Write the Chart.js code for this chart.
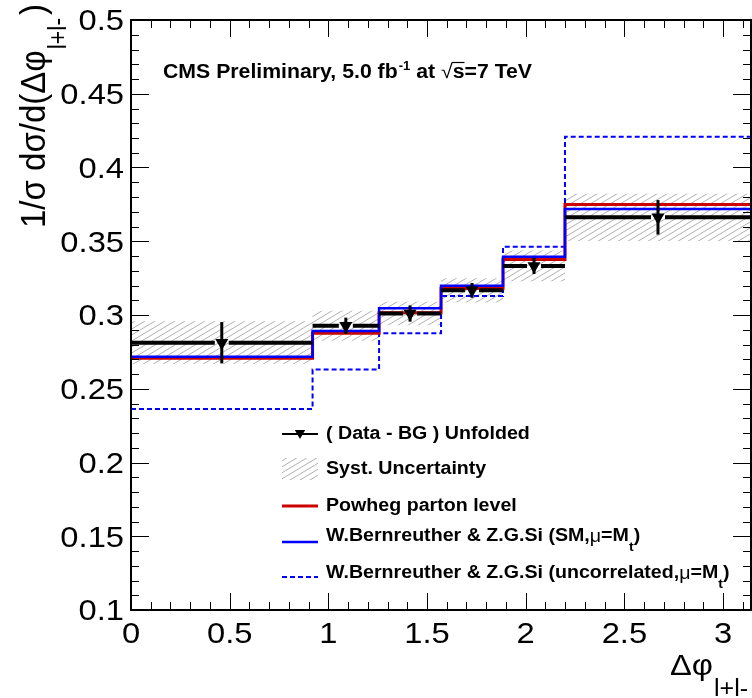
<!DOCTYPE html>
<html>
<head>
<meta charset="utf-8">
<script src="https://cdn.jsdelivr.net/npm/chart.js@4"></script>
<style>
  html, body { margin: 0; padding: 0; background: #fff; overflow: hidden; }
  #grafica { display: block; }
</style>
</head>
<body>
<canvas id="grafica" width="752" height="698"></canvas>
<script>
// bins in delta phi
const binEdges = [0, 0.92, 1.257, 1.571, 1.885, 2.199, Math.PI];
// (Data - BG) unfolded
const dataVals = [0.2812, 0.2927, 0.3010, 0.3167, 0.3333, 0.3662];
const statErr = [0.0140, 0.0055, 0.0055, 0.0050, 0.0055, 0.0117];
const systErr = [0.0145, 0.0102, 0.0080, 0.0082, 0.0104, 0.0160];
// theory curves
const powhegVals = [0.2706, 0.2876, 0.3015, 0.3180, 0.3377, 0.3750];
const smVals = [0.2717, 0.2892, 0.3045, 0.3199, 0.3395, 0.3719];
const uncorrVals = [0.2363, 0.2630, 0.2876, 0.3129, 0.3463, 0.4209];
// axis ticks
const xTickVals = [0, 0.5, 1, 1.5, 2, 2.5, 3];
const xTickLabels = ['0', '0.5', '1', '1.5', '2', '2.5', '3'];
const yTickVals = [0.1, 0.15, 0.2, 0.25, 0.3, 0.35, 0.4, 0.45, 0.5];
const yTickLabels = ['0.1', '0.15', '0.2', '0.25', '0.3', '0.35', '0.4', '0.45', '0.5'];

const FONT = '"Liberation Sans", Arial, Helvetica, sans-serif';
const STRETCH = 1.09;
const RED = '#cc0000';
const BLUE = '#0000ff';

// histogram as stepped line points
function histo(vals) {
    return binEdges.map(function (x, i) {
        return {x: x, y: vals[Math.min(i, vals.length - 1)]};
    });
}
const binCenters = dataVals.map(function (v, i) { return (binEdges[i] + binEdges[i + 1]) / 2; });
const systUp = dataVals.map(function (v, i) { return v + systErr[i]; });
const systDown = dataVals.map(function (v, i) { return v - systErr[i]; });

// hatch pattern ///
function hatchPattern(ctx) {
    const c = document.createElement('canvas');
    c.width = 10; c.height = 6;
    const g = c.getContext('2d');
    g.strokeStyle = '#a8a8a8';
    g.lineWidth = 0.9;
    [-6, 0, 6].forEach(function (d) {
        g.beginPath();
        g.moveTo(0, 6 + d);
        g.lineTo(10, 0 + d);
        g.stroke();
    });
    return ctx.createPattern(c, 'repeat');
}

const canvas = document.getElementById('grafica');
const ctx0 = canvas.getContext('2d');
const hatch = hatchPattern(ctx0);

// text with small horizontal stretch (root style)
function texto(ctx, str, x, y, font, align) {
    ctx.save();
    ctx.font = font;
    const w = ctx.measureText(str).width * STRETCH;
    let left = x;
    if (align === 'center') left = x - w / 2;
    if (align === 'right') left = x - w;
    ctx.translate(left, y);
    ctx.scale(STRETCH, 1);
    ctx.fillText(str, 0, 0);
    ctx.restore();
    return w;
}

function triangulo(ctx, x, y, r) {
    ctx.beginPath();
    ctx.moveTo(x, y + r);
    ctx.lineTo(x - 0.866 * r, y - r / 2);
    ctx.lineTo(x + 0.866 * r, y - r / 2);
    ctx.closePath();
    ctx.fill();
}

// error bars of the data, drawn just before the markers
const errorBars = {
    id: 'errorBars',
    beforeDatasetDraw(chart, args) {
        if (args.index !== 0) return;
        const {ctx, scales: {x, y}} = chart;
        ctx.save();
        ctx.strokeStyle = '#000';
        dataVals.forEach(function (v, i) {
            const cx = x.getPixelForValue(binCenters[i]);
            const cy = y.getPixelForValue(v);
            ctx.lineWidth = 4;
            ctx.beginPath();
            ctx.moveTo(x.getPixelForValue(binEdges[i]), cy);
            ctx.lineTo(cx - 7, cy);
            ctx.moveTo(cx + 7, cy);
            ctx.lineTo(x.getPixelForValue(binEdges[i + 1]), cy);
            ctx.stroke();
            ctx.lineWidth = 3;
            ctx.beginPath();
            ctx.moveTo(cx, y.getPixelForValue(v + statErr[i]));
            ctx.lineTo(cx, y.getPixelForValue(v - statErr[i]));
            ctx.stroke();
        });
        ctx.restore();
    }
};

// frame, ticks, labels, titles, legend
const marco = {
    id: 'marco',
    afterDraw(chart) {
        const {ctx, chartArea: {left, right, top, bottom}, scales: {x, y}} = chart;
        ctx.save();
        ctx.fillStyle = '#000';
        ctx.strokeStyle = '#000';

        // ticks inside the frame
        ctx.lineWidth = 1;
        ctx.beginPath();
        for (let k = 0; k <= 31; k++) {
            const px = Math.round(x.getPixelForValue(k / 10)) + 0.5;
            const len = (k % 5 === 0) ? 17 : 8;
            ctx.moveTo(px, bottom); ctx.lineTo(px, bottom - len);
            ctx.moveTo(px, top); ctx.lineTo(px, top + len);
        }
        for (let k = 10; k <= 50; k++) {
            const py = Math.round(y.getPixelForValue(k / 100)) + 0.5;
            const len = (k % 5 === 0) ? 18 : 8;
            ctx.moveTo(left, py); ctx.lineTo(left + len, py);
            ctx.moveTo(right, py); ctx.lineTo(right - len, py);
        }
        ctx.stroke();

        ctx.lineWidth = 2;
        ctx.strokeRect(left, top, right - left, bottom - top);

        // tick labels
        const fTick = '30px ' + FONT;
        ctx.textBaseline = 'alphabetic';
        xTickVals.forEach(function (v, i) {
            texto(ctx, xTickLabels[i], x.getPixelForValue(v), 643, fTick, 'center');
        });
        ctx.textBaseline = 'middle';
        yTickVals.forEach(function (v, i) {
            texto(ctx, yTickLabels[i], 124, y.getPixelForValue(v) + 2, fTick, 'right');
        });

        // x title
        ctx.textBaseline = 'alphabetic';
        let w = texto(ctx, 'Δφ', 670, 675, '30px ' + FONT, 'left');
        texto(ctx, 'l+l-', 670 + w + 1, 696, '23px ' + FONT, 'left');

        // y title (rotated, glyphs a bit wider on screen)
        ctx.save();
        ctx.translate(45, 228);
        ctx.rotate(-Math.PI / 2);
        ctx.scale(1, STRETCH);
        ctx.font = '33px ' + FONT;
        ctx.fillText('1/σ dσ/d(Δφ', 0, 0);
        let w1 = ctx.measureText('1/σ dσ/d(Δφ').width;
        ctx.font = '23px ' + FONT;
        ctx.fillText('l+l-', w1 + 1, 19);
        let w2 = ctx.measureText('l+l-').width;
        ctx.font = '33px ' + FONT;
        ctx.fillText(')', w1 + w2 + 4, 0);
        ctx.restore();

        // CMS label
        const fB = 'bold 19.5px ' + FONT;
        let cx = 163, by = 78;
        cx += texto(ctx, 'CMS Preliminary, 5.0 fb', cx, by, fB, 'left');
        cx += texto(ctx, '-1', cx + 1, by - 8, 'bold 12px ' + FONT, 'left') + 1;
        cx += texto(ctx, ' at ', cx, by, fB, 'left');
        cx += texto(ctx, '√', cx, by, '19.5px ' + FONT, 'left');
        let ws = texto(ctx, 's', cx, by, fB, 'left');
        ctx.lineWidth = 1.2;
        ctx.beginPath();
        ctx.moveTo(cx - 1, by - 15.5);
        ctx.lineTo(cx + ws, by - 15.5);
        ctx.stroke();
        cx += ws;
        texto(ctx, '=7 TeV', cx, by, fB, 'left');

        // legend
        const fL = 'bold 18px ' + FONT;
        const x0 = 282, x1 = 318, tx = 326;
        ctx.textBaseline = 'middle';
        // data
        ctx.lineWidth = 2;
        ctx.beginPath();
        ctx.moveTo(x0, 434); ctx.lineTo(x1, 434);
        ctx.stroke();
        triangulo(ctx, 300, 433, 6);
        texto(ctx, '( Data - BG ) Unfolded', tx, 434, fL, 'left');
        // syst
        ctx.fillStyle = hatch;
        ctx.fillRect(x0, 458, x1 - x0, 22);
        ctx.fillStyle = '#000';
        texto(ctx, 'Syst. Uncertainty', tx, 469, fL, 'left');
        // powheg
        ctx.strokeStyle = RED;
        ctx.lineWidth = 3;
        ctx.beginPath();
        ctx.moveTo(x0, 506); ctx.lineTo(x1, 506);
        ctx.stroke();
        texto(ctx, 'Powheg parton level', tx, 506, fL, 'left');
        // SM
        ctx.strokeStyle = BLUE;
        ctx.lineWidth = 2.5;
        ctx.beginPath();
        ctx.moveTo(x0, 542); ctx.lineTo(x1, 542);
        ctx.stroke();
        let lx = tx;
        lx += texto(ctx, 'W.Bernreuther & Z.G.Si (SM,', lx, 536, fL, 'left');
        lx += texto(ctx, 'μ', lx, 537, '18px ' + FONT, 'left');
        lx += texto(ctx, '=M', lx, 536, fL, 'left');
        lx += texto(ctx, 't', lx, 547, 'bold 13px ' + FONT, 'left');
        texto(ctx, ')', lx, 536, fL, 'left');
        // uncorrelated
        ctx.lineWidth = 2;
        ctx.setLineDash([5, 3]);
        ctx.beginPath();
        ctx.moveTo(x0, 577); ctx.lineTo(x1, 577);
        ctx.stroke();
        ctx.setLineDash([]);
        lx = tx;
        lx += texto(ctx, 'W.Bernreuther & Z.G.Si (uncorrelated,', lx, 573, fL, 'left');
        lx += texto(ctx, 'μ', lx, 574, '18px ' + FONT, 'left');
        lx += texto(ctx, '=M', lx, 573, fL, 'left');
        lx += texto(ctx, 't', lx, 584, 'bold 13px ' + FONT, 'left');
        texto(ctx, ')', lx, 573, fL, 'left');

        ctx.restore();
    }
};

let datos = {
    datasets: [
        {
            // markers, index 0 -> drawn last
            data: dataVals.map(function (v, i) { return {x: binCenters[i], y: v}; }),
            showLine: false,
            pointStyle: 'triangle',
            rotation: 180,
            pointRadius: 7.5,
            pointBackgroundColor: '#000',
            pointBorderColor: '#000',
            pointBorderWidth: 0
        },
        {
            data: histo(smVals),
            stepped: true,
            borderColor: BLUE,
            borderWidth: 2.5,
            pointRadius: 0,
            fill: false
        },
        {
            data: histo(powhegVals),
            stepped: true,
            borderColor: RED,
            borderWidth: 3,
            pointRadius: 0,
            fill: false
        },
        {
            data: histo(uncorrVals),
            stepped: true,
            borderColor: BLUE,
            borderWidth: 2,
            borderDash: [5, 3],
            pointRadius: 0,
            fill: false
        },
        {
            data: histo(systUp),
            stepped: true,
            borderColor: 'rgba(0,0,0,0)',
            backgroundColor: hatch,
            pointRadius: 0,
            fill: '+1'
        },
        {
            data: histo(systDown),
            stepped: true,
            borderColor: 'rgba(0,0,0,0)',
            pointRadius: 0,
            fill: false
        }
    ]
};

let opciones = {
    responsive: false,
    animation: false,
    events: [],
    layout: {autoPadding: false, padding: {left: 131, top: 20, right: 1, bottom: 88}},
    plugins: {
        legend: {display: false},
        tooltip: {enabled: false}
    },
    scales: {
        x: {type: 'linear', min: 0, max: Math.PI, display: false},
        y: {type: 'linear', min: 0.1, max: 0.5, display: false}
    }
};

let miGrafica = new Chart(canvas, {
    type: 'line',
    data: datos,
    options: opciones,
    plugins: [errorBars, marco]
});
</script>
</body>
</html>
